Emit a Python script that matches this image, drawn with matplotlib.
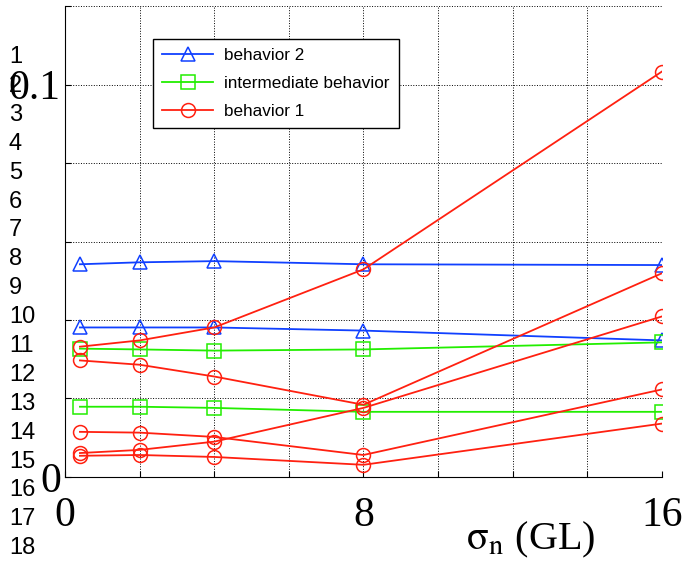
import matplotlib.pyplot as plt
import matplotlib.ticker as mticker

x = [0.4, 2, 4, 8, 16]

blue_1 = [0.0542, 0.0547, 0.0550, 0.0542, 0.0540]
blue_2 = [0.0381, 0.0381, 0.0381, 0.0373, 0.0348]

green_1 = [0.0327, 0.0325, 0.0322, 0.0325, 0.0343]
green_2 = [0.0179, 0.0179, 0.0176, 0.0166, 0.0166]

red_1 = [0.0332, 0.0348, 0.0381, 0.0529, 0.1033]
red_2 = [0.0297, 0.0286, 0.0256, 0.0184, 0.0519]
red_3 = [0.0115, 0.0113, 0.0102, 0.0056, 0.0223]
red_4 = [0.0061, 0.0069, 0.0090, 0.0176, 0.0409]
red_5 = [0.0054, 0.0056, 0.0051, 0.0031, 0.0136]

xtick_labels = ['0', '', '', '', '8', '', '', '', '16']
ytick_labels = ['0', '', '', '', '', '0.1', '']
side_numbers = [str(i) for i in range(1, 19)]

blue = '#1040ff'
green = '#22ee00'
red = '#ff2010'

plt.rcParams['font.family'] = ['Liberation Serif', 'DejaVu Serif']
plt.rcParams['mathtext.fontset'] = 'stix'

fig = plt.figure(figsize=(6.88, 5.65), dpi=100)
ax = fig.add_axes([0.0945, 0.1558, 0.8675, 0.8335])

mk = dict(markerfacecolor='none', markersize=10, markeredgewidth=1.1, linewidth=1.3)
ax.plot(x, blue_1, '-^', color=blue, label='behavior 2', **mk)
ax.plot(x, blue_2, '-^', color=blue, **mk)
ax.plot(x, green_1, '-s', color=green, label='intermediate behavior', **mk)
ax.plot(x, green_2, '-s', color=green, **mk)
ax.plot(x, red_1, '-o', color=red, label='behavior 1', **mk)
for r in [red_2, red_3, red_4, red_5]:
    ax.plot(x, r, '-o', color=red, **mk)

ax.set_xlim(0, 16)
ax.set_ylim(0, 0.12)
ax.xaxis.set_major_locator(mticker.FixedLocator(range(0, 17, 2)))
ax.set_xticklabels(xtick_labels)
ax.yaxis.set_major_locator(mticker.FixedLocator([0, 0.02, 0.04, 0.06, 0.08, 0.1, 0.12]))
ax.set_yticklabels(ytick_labels)
ax.tick_params(direction='in', length=4, labelsize=30, pad=14)
ax.tick_params(axis='y', pad=3)
ax.grid(True, linestyle=':', color='black', linewidth=0.7)
ax.spines['top'].set_visible(False)
ax.spines['right'].set_visible(False)

leg = ax.legend(loc='upper left', bbox_to_anchor=(0.147, 0.93), borderaxespad=0,
                fancybox=False, edgecolor='black', framealpha=1, labelspacing=0.75,
                prop={'family': 'Liberation Sans', 'size': 12.3}, handlelength=3.0,
                handletextpad=0.6, borderpad=0.55)
leg.get_frame().set_linewidth(1.0)

fig.text(0.772, 0.044, r'$\mathrm{\sigma_n}$ (GL)', fontsize=29, ha='center', va='center')

for i, s in enumerate(side_numbers):
    fig.text(0.013, 1 - (57 + i * 28.9) / 565, s, fontsize=17,
             family='Liberation Sans', va='center', ha='left')

fig.savefig('out.png', dpi=100)
